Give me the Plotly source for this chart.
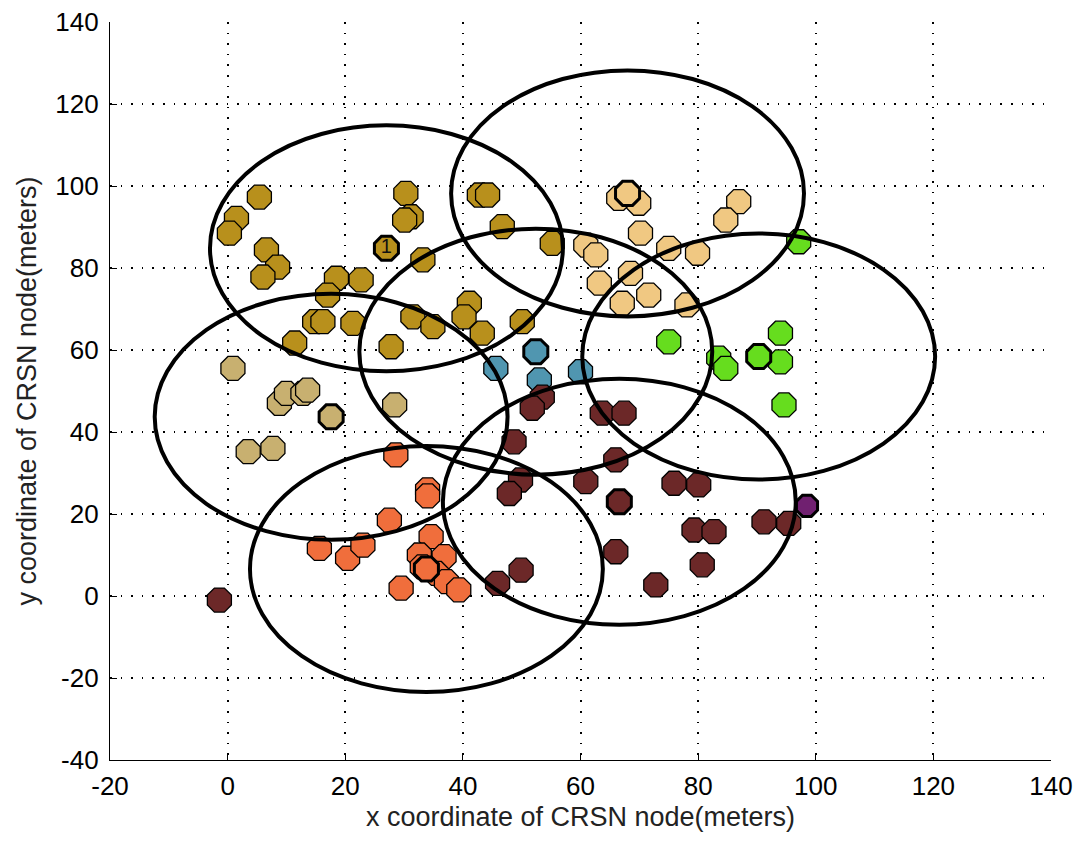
import plotly.graph_objects as go

# ---------------- data ----------------
gold_x = [5.4, 1.5, 0.3, 6.6, 8.5, 6.0, 18.5, 22.7, 17.0, 14.8, 16.2, 21.3, 11.4, 27.8,
          30.3, 31.2, 30.1, 33.2, 42.8, 44.2, 46.7, 55.2, 31.5, 34.9, 41.1, 40.2, 43.3, 50.1]
gold_y = [97.3, 92.1, 88.5, 84.4, 80.2, 77.8, 77.5, 77.1, 73.4, 66.9, 66.9, 66.5, 61.7, 60.8,
          98.2, 92.5, 91.7, 82.0, 97.8, 97.8, 90.1, 86.0, 68.1, 65.7, 71.4, 68.1, 64.1, 66.9]

tan_x = [69.9, 66.5, 70.2, 86.9, 84.7, 60.9, 62.6, 75.0, 79.9, 63.2, 68.5, 67.1, 71.6, 78.1]
tan_y = [95.8, 97.0, 88.5, 96.2, 91.7, 85.6, 83.2, 84.8, 83.6, 76.3, 78.7, 71.4, 73.4, 71.0]

khaki_x = [0.9, 8.8, 10.0, 12.8, 13.6, 3.5, 7.7, 28.4]
khaki_y = [55.5, 47.0, 49.4, 49.4, 50.2, 35.2, 36.0, 46.6]

blue_x = [45.6, 53.0, 60.0]
blue_y = [55.5, 52.7, 54.7]

green_x = [97.1, 75.0, 83.5, 84.7, 94.0, 94.0, 94.6]
green_y = [86.4, 62.0, 58.0, 55.5, 64.1, 57.1, 46.6]

orange_x = [28.6, 34.0, 34.0, 27.5, 15.6, 20.4, 23.0, 34.6, 32.6, 36.8, 33.1, 35.5, 37.2, 29.5, 39.3]
orange_y = [34.4, 25.9, 24.4, 18.5, 11.6, 9.2, 12.4, 14.5, 10.0, 9.6, 7.1, 5.5, 3.5, 1.9, 1.5]

maroon_x = [53.5, 51.8, 63.7, 67.4, 48.7, 66.0, 60.9, 49.8, 47.9, 75.9, 80.1, 91.2, 95.4,
            79.3, 82.7, 66.0, 80.7, 72.8, 49.9, 45.9, -1.4]
maroon_y = [48.5, 45.8, 44.6, 44.6, 37.6, 33.2, 27.9, 28.3, 25.0, 27.5, 27.1, 18.1, 17.7,
            16.1, 15.7, 10.8, 7.6, 2.7, 6.3, 3.1, -1.0]

# cluster heads (centres of the 30 m coverage circles)
head_names = ["gold", "tan", "blue", "green", "khaki", "maroon", "orange"]
head_x = [27.0, 68.0, 52.4, 90.3, 17.6, 66.6, 33.8]
head_y = [84.8, 98.2, 59.6, 58.4, 43.7, 23.0, 6.6]
radius = 30

lone_x = [98.5]
lone_y = [22.0]

x_ticks = [-20, 0, 20, 40, 60, 80, 100, 120, 140]
y_ticks = [-40, -20, 0, 20, 40, 60, 80, 100, 120, 140]

colors = {
    "gold": "#B8901C",
    "tan": "#F0C882",
    "khaki": "#C8B070",
    "blue": "#5096B0",
    "green": "#66DD1E",
    "orange": "#F06E3C",
    "maroon": "#6C2828",
    "purple": "#702070",
}

# ---------------- figure ----------------
fig = go.Figure()
msize = 26

groups = [
    ("gold", gold_x, gold_y),
    ("tan", tan_x, tan_y),
    ("khaki", khaki_x, khaki_y),
    ("blue", blue_x, blue_y),
    ("green", green_x, green_y),
    ("orange", orange_x, orange_y),
    ("maroon", maroon_x, maroon_y),
]
for name, xs, ys in groups:
    fig.add_trace(go.Scatter(
        x=xs, y=ys, mode="markers",
        marker=dict(symbol="octagon", size=msize, color=colors[name],
                    line=dict(color="black", width=1.3)),
        showlegend=False, hoverinfo="skip"))

# heads with thick border
fig.add_trace(go.Scatter(
    x=head_x, y=head_y, mode="markers",
    marker=dict(symbol="octagon", size=msize, color=[colors[n] for n in head_names],
                line=dict(color="black", width=3)),
    showlegend=False, hoverinfo="skip"))
fig.add_trace(go.Scatter(
    x=lone_x, y=lone_y, mode="markers",
    marker=dict(symbol="octagon", size=msize - 3, color=colors["purple"],
                line=dict(color="black", width=3)),
    showlegend=False, hoverinfo="skip"))
# label on first head
fig.add_trace(go.Scatter(
    x=[head_x[0]], y=[head_y[0]], mode="text", text=["1"],
    textfont=dict(family="Liberation Sans", size=20, color="#111111"),
    showlegend=False, hoverinfo="skip"))

for cx, cy in zip(head_x, head_y):
    fig.add_shape(type="circle", xref="x", yref="y",
                  x0=cx - radius, x1=cx + radius, y0=cy - radius, y1=cy + radius,
                  line=dict(color="black", width=4), layer="above")

axis_common = dict(
    showgrid=True, gridcolor="black", gridwidth=1.6, griddash="1.6px,9px",
    zeroline=False, showline=True, linecolor="black", linewidth=1.2,
    ticks="inside", ticklen=7, tickcolor="black", tickwidth=1.2,
    tickfont=dict(family="Liberation Sans", size=26, color="black"),
    title_font=dict(family="Liberation Sans", size=27, color="#222222"),
    mirror=False, automargin=False,
)

fig.update_layout(
    width=1081, height=844,
    margin=dict(l=110, r=30, t=22, b=84),
    paper_bgcolor="white", plot_bgcolor="white",
    xaxis=dict(range=[-20, 140], tickvals=x_ticks, ticktext=[str(v) for v in x_ticks],
               title=dict(text="x coordinate of CRSN node(meters)", standoff=6),
               ticklabelstandoff=3, **axis_common),
    yaxis=dict(range=[-40, 140], tickvals=y_ticks, ticktext=[str(v) for v in y_ticks],
               title=dict(text="y coordinate of CRSN node(meters)", standoff=10),
               ticklabelstandoff=5, **axis_common),
)

fig.write_html("out.html", config={"displayModeBar": False},
               post_script="document.body.style.margin='0';document.body.style.overflow='hidden';")
